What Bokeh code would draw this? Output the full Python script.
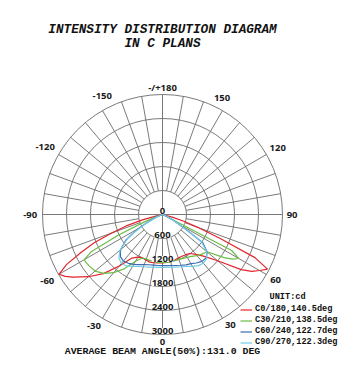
import numpy as np
from bokeh.plotting import figure
from bokeh.models import Range1d, Label, Legend, LegendItem, ColumnDataSource
from bokeh.embed import file_html
from bokeh.resources import INLINE
from bokeh.core.properties import value

# ---------------- data ----------------
gamma = [0, 5, 10, 15, 20, 25, 30, 35, 40, 45, 50, 55, 57.5, 60, 62.5, 65, 67.5, 70, 72.5, 75, 80, 85, 90]

# left half (negative angles) and right half (positive angles) of each plane pair, cd
c0   = [1210, 1215, 1225, 1235, 1210, 1190, 1230, 1330, 1680, 2090, 2420, 2730, 2880, 2990, 2700, 2250, 1850, 1350, 950, 520, 80, 10, 0]
c180 = [1210, 1205, 1195, 1180, 1160, 1150, 1160, 1190, 1300, 1480, 1800, 2400, 2650, 2800, 2960, 2550, 1550, 920, 560, 250, 30, 0, 0]
c30  = [1200, 1200, 1195, 1190, 1185, 1200, 1350, 1650, 1900, 2080, 2200, 2240, 2255, 2260, 2000, 1200, 500, 150, 50, 20, 0, 0, 0]
c210 = [1200, 1200, 1195, 1190, 1195, 1210, 1240, 1280, 1340, 1400, 1450, 1880, 2080, 2200, 1950, 100, 0, 0, 0, 0, 0, 0, 0]
c60  = [1280, 1280, 1285, 1300, 1330, 1380, 1440, 1490, 1520, 1490, 1370, 1120, 900, 650, 420, 230, 120, 60, 30, 10, 0, 0, 0]
c240 = [1280, 1285, 1295, 1320, 1350, 1390, 1420, 1480, 1530, 1540, 1460, 1230, 700, 420, 250, 130, 60, 30, 10, 0, 0, 0, 0]
c90  = [1320, 1325, 1335, 1360, 1390, 1430, 1500, 1570, 1600, 1540, 1390, 1080, 850, 600, 380, 200, 100, 50, 20, 10, 0, 0, 0]
c270 = [1320, 1325, 1335, 1360, 1390, 1430, 1500, 1560, 1590, 1560, 1450, 1180, 750, 450, 270, 150, 70, 30, 10, 0, 0, 0, 0]

series_names = ["C0/180,140.5deg", "C30/210,138.5deg", "C60/240,122.7deg", "C90/270,122.3deg"]
series_left = [c0, c30, c60, c90]
series_right = [c180, c210, c240, c270]
colors = ["#e3262d", "#6cbd45", "#3c6cb4", "#74cbe6"]

rings = [600, 1200, 1800, 2400, 3000]
ring_labels = ["0", "600", "1200", "1800", "2400", "3000"]
angle_ticks = [-180, -150, -120, -90, -60, -30, 0, 30, 60, 90, 120, 150]
angle_labels = ["-/+180", "-150", "-120", "-90", "-60", "-30", "0", "30", "60", "90", "120", "150"]

title1 = "INTENSITY DISTRIBUTION DIAGRAM"
title2 = "IN C PLANS"
unit_text = "UNIT:cd"
footer = "AVERAGE BEAM ANGLE(50%):131.0 DEG"

# ---------------- layout ----------------
W, H = 352, 381
CX, CY = 162, 214     # polar centre in px (from top-left)
S = 25.0              # cd per px
RMAX = rings[-1]

p = figure(width=W, height=H, output_backend="svg", toolbar_location=None,
           x_range=Range1d(-CX * S, (W - CX) * S), y_range=Range1d(-(H - CY) * S, CY * S),
           x_axis_type=None, y_axis_type=None, min_border=0)
p.outline_line_color = None
p.background_fill_color = "white"
p.border_fill_color = "white"

GRID = "#6b6b6b"

def pol(r, a_deg):
    a = np.radians(a_deg)
    return np.asarray(r) * np.sin(a), -np.asarray(r) * np.cos(a)

# rings
p.circle(x=[0] * len(rings), y=[0] * len(rings), radius=rings, fill_color=None,
         line_color=GRID, line_width=0.9)

# radial lines
angs = np.arange(0, 360, 10)
r0 = np.array([0 if a % 90 == 0 else rings[0] for a in angs])
x0, y0 = pol(r0, angs)
x1, y1 = pol(RMAX, angs)
p.segment(x0=x0, y0=y0, x1=x1, y1=y1, line_color=GRID, line_width=0.9)

# curves
items = []
g = np.array(gamma)
for name, L, R, col in zip(series_names, series_left, series_right, colors):
    ang = np.concatenate([-g[::-1], g[1:]])
    inten = np.concatenate([np.array(L)[::-1], np.array(R)[1:]])
    xs, ys = pol(inten, ang)
    r = p.line(xs, ys, line_color=col, line_width=1.2)
    items.append(LegendItem(label=name, renderers=[r]))

# ring labels
ring_vals = [0] + rings
src = ColumnDataSource(dict(x=[0] * len(ring_vals), y=[-v + 3.5 * S for v in ring_vals], t=ring_labels))
p.text(x="x", y="y", text="t", source=src, text_font=value("Open Sans"), text_font_style="bold",
       text_font_size="9.5px", text_color="#1a1a1a", text_align="center", text_baseline="middle",
       background_fill_color="white")

# angle labels
nudge = {-150: -3, 150: 3, -30: -1.5, 30: 1.5}
lx, ly = [], []
for a, t in zip(angle_ticks, angle_labels):
    hw = len(t) * 2.8
    a_r = np.radians(a)
    dist = 124 + abs(np.sin(a_r)) * hw + abs(np.cos(a_r)) * 3.5
    aa = a + nudge.get(a, 0)
    x, y = pol(dist * S, aa)
    lx.append(float(x)); ly.append(float(y))
p.text(x=lx, y=ly, text=angle_labels, text_font=value("Open Sans"), text_font_style="bold",
       text_font_size="9.5px", text_color="#1a1a1a", text_align="center", text_baseline="middle")

# titles
MONO = "Liberation Mono"
for txt, ypx in [(title1, 28.5), (title2, 42.5)]:
    p.add_layout(Label(x=CX, y=H - ypx, x_units="screen", y_units="screen", text=txt,
                       text_font=MONO, text_font_style="bold italic", text_font_size="12.7px",
                       text_color="#111111", text_align="center", text_baseline="middle"))

p.add_layout(Label(x=CX, y=H - 351, x_units="screen", y_units="screen", text=footer,
                   text_font=MONO, text_font_style="bold", text_font_size="9.9px",
                   text_color="#111111", text_align="center", text_baseline="middle"))

p.add_layout(Label(x=269, y=H - 296.7, x_units="screen", y_units="screen", text=unit_text,
                   text_font=MONO, text_font_style="bold", text_font_size="8.6px",
                   text_color="#111111", text_align="left", text_baseline="middle"))

legend = Legend(items=items, location=(240, 33.5), margin=0, padding=0, spacing=0,
                label_height=11, glyph_height=11, glyph_width=12, label_standoff=3,
                label_text_font=MONO, label_text_font_style="bold", label_text_font_size="8.6px",
                label_text_color="#111111", border_line_color=None, background_fill_alpha=0)
p.add_layout(legend)

open("out.html", "w").write(file_html(p, INLINE))
